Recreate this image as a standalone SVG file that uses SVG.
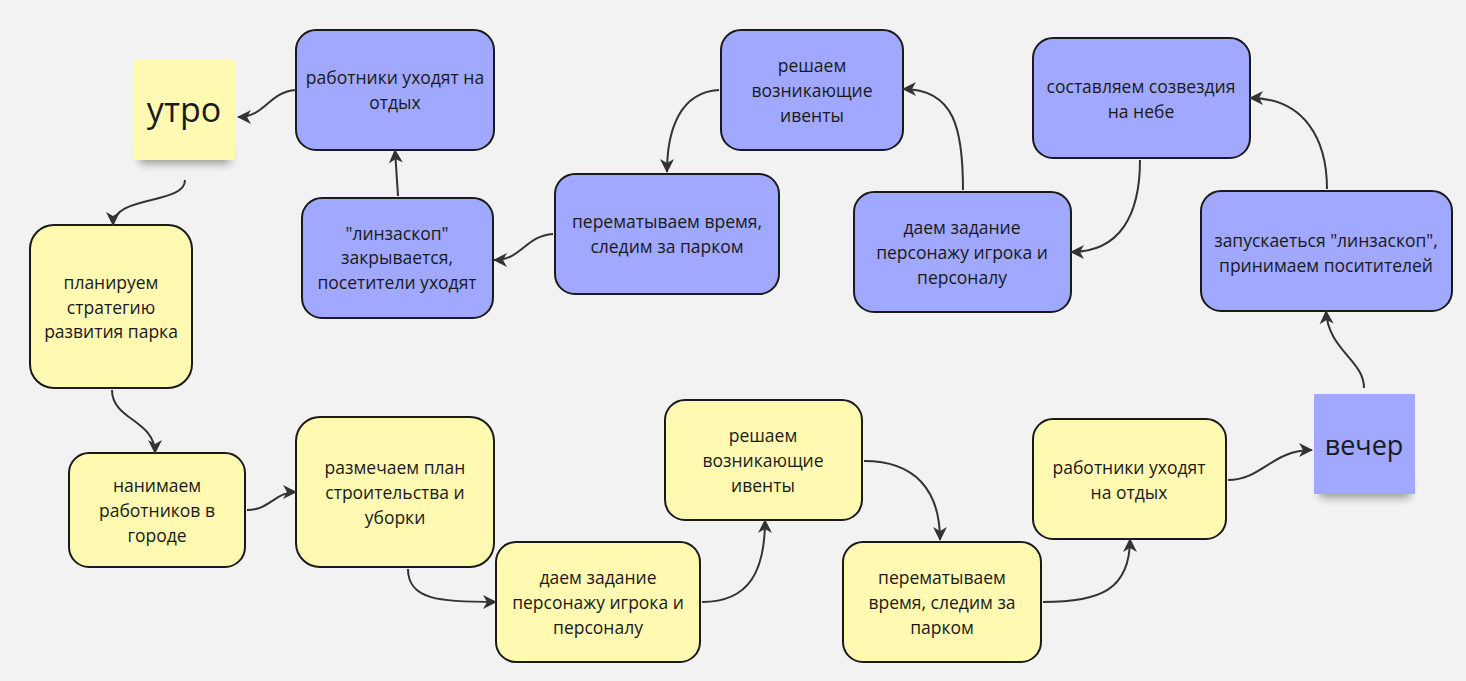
<svg xmlns="http://www.w3.org/2000/svg" width="1466" height="681" viewBox="0 0 1466 681">
<style>
.y{fill:#fff9b1;stroke:#1a1a1a;stroke-width:2}
.b{fill:#a0a8ff;stroke:#1a1a1a;stroke-width:2}
text{font-family:"Open Sans","Noto Sans",sans-serif;font-size:17.5px;fill:#1a1a1a;text-anchor:middle}
.big{font-size:34px}
.big2{font-size:27px}
.c path{fill:none;stroke:#333;stroke-width:2;marker-end:url(#ah)}
</style>
<defs>
<marker id="ah" markerUnits="userSpaceOnUse" markerWidth="16" markerHeight="16" viewBox="0 0 16 16" refX="14" refY="8" orient="auto">
<path d="M1,1 L15,8 L1,15 L5,8 z" fill="#333"/>
</marker>
<filter id="sh" x="-20%" y="-20%" width="140%" height="160%">
<feGaussianBlur stdDeviation="4"/>
</filter>
</defs>
<rect width="1466" height="681" fill="#f2f2f2"/>

<g id="utro">
<rect x="140" y="146" width="90" height="18" fill="#000" opacity="0.35" filter="url(#sh)"/>
<rect x="134" y="60" width="101" height="100" fill="#fff9b1"/>
<text class="big" x="184" y="122">утро</text>
</g>
<g id="vecher">
<rect x="1320" y="480" width="90" height="18" fill="#000" opacity="0.35" filter="url(#sh)"/>
<rect x="1314" y="394" width="101" height="100" fill="#a0a8ff"/>
<text class="big2" x="1364" y="455">вечер</text>
</g>

<g id="n1"><rect class="b" x="296" y="30" width="198" height="120" rx="20"/>
<text x="395" y="84">работники уходят на</text><text x="395" y="109">отдых</text></g>
<g id="n2"><rect class="b" x="302" y="198" width="191" height="120" rx="20"/>
<text x="397" y="240">"линзаскоп"</text><text x="397" y="264">закрывается,</text><text x="397" y="289">посетители уходят</text></g>
<g id="n3"><rect class="b" x="555" y="174" width="224" height="120" rx="20"/>
<text x="667" y="228">перематываем время,</text><text x="667" y="253">следим за парком</text></g>
<g id="n4"><rect class="b" x="721" y="30" width="182" height="120" rx="20"/>
<text x="812" y="72">решаем</text><text x="812" y="97">возникающие</text><text x="812" y="122">ивенты</text></g>
<g id="n5"><rect class="b" x="854" y="192" width="217" height="120" rx="20"/>
<text x="962" y="234">даем задание</text><text x="962" y="259">персонажу игрока и</text><text x="962" y="284">персоналу</text></g>
<g id="n6"><rect class="b" x="1033" y="38" width="217" height="120" rx="20"/>
<text x="1141" y="93">составляем созвездия</text><text x="1141" y="118">на небе</text></g>
<g id="n7"><rect class="b" x="1201" y="191" width="251" height="120" rx="20"/>
<text x="1326" y="247">запускаеться "линзаскоп",</text><text x="1326" y="272">принимаем поситителей</text></g>

<g id="y1"><rect class="y" x="30" y="225" width="162" height="163" rx="24"/>
<text x="111" y="289">планируем</text><text x="111" y="314">стратегию</text><text x="111" y="338">развития парка</text></g>
<g id="y2"><rect class="y" x="69" y="453" width="176" height="114" rx="20"/>
<text x="157" y="492">нанимаем</text><text x="157" y="517">работников в</text><text x="157" y="542">городе</text></g>
<g id="y3"><rect class="y" x="296" y="417" width="198" height="150" rx="24"/>
<text x="395" y="474">размечаем план</text><text x="395" y="499">строительства и</text><text x="395" y="524">уборки</text></g>
<g id="y4"><rect class="y" x="496" y="542" width="204" height="120" rx="20"/>
<text x="598" y="584">даем задание</text><text x="598" y="609">персонажу игрока и</text><text x="598" y="634">персоналу</text></g>
<g id="y5"><rect class="y" x="665" y="400" width="197" height="120" rx="20"/>
<text x="763" y="442">решаем</text><text x="763" y="467">возникающие</text><text x="763" y="492">ивенты</text></g>
<g id="y6"><rect class="y" x="843" y="542" width="198" height="120" rx="20"/>
<text x="942" y="584">перематываем</text><text x="942" y="609">время, следим за</text><text x="942" y="634">парком</text></g>
<g id="y7"><rect class="y" x="1033" y="419" width="193" height="120" rx="20"/>
<text x="1129" y="474">работники уходят</text><text x="1129" y="499">на отдых</text></g>

<g id="connectors" class="c">
<path d="M296,90 C268,92 266,117 238,117"/>
<path d="M398,196 L395,150"/>
<path d="M553,234 C525,236 522,260 494,260"/>
<path d="M719,90 C680,92 667,130 667,172"/>
<path d="M963,190 C963,130 955,89 903,89"/>
<path d="M1140,160 C1140,215 1120,252 1071,252"/>
<path d="M1327,189 C1327,140 1305,98 1250,98"/>
<path d="M1364,388 C1364,360 1328,350 1326,311"/>
<path d="M1228,480 C1262,480 1272,450 1312,450"/>
<path d="M1043,602 C1100,602 1130,590 1130,539"/>
<path d="M864,461 C915,461 940,490 940,540"/>
<path d="M702,602 C750,602 765,570 765,520"/>
<path d="M408,569 C408,600 440,602 496,602"/>
<path d="M247,510 C270,510 275,492 296,492"/>
<path d="M112,390 C112,420 155,420 155,453"/>
<path d="M185,180 C185,205 113,195 113,225"/>
</g>
</svg>
